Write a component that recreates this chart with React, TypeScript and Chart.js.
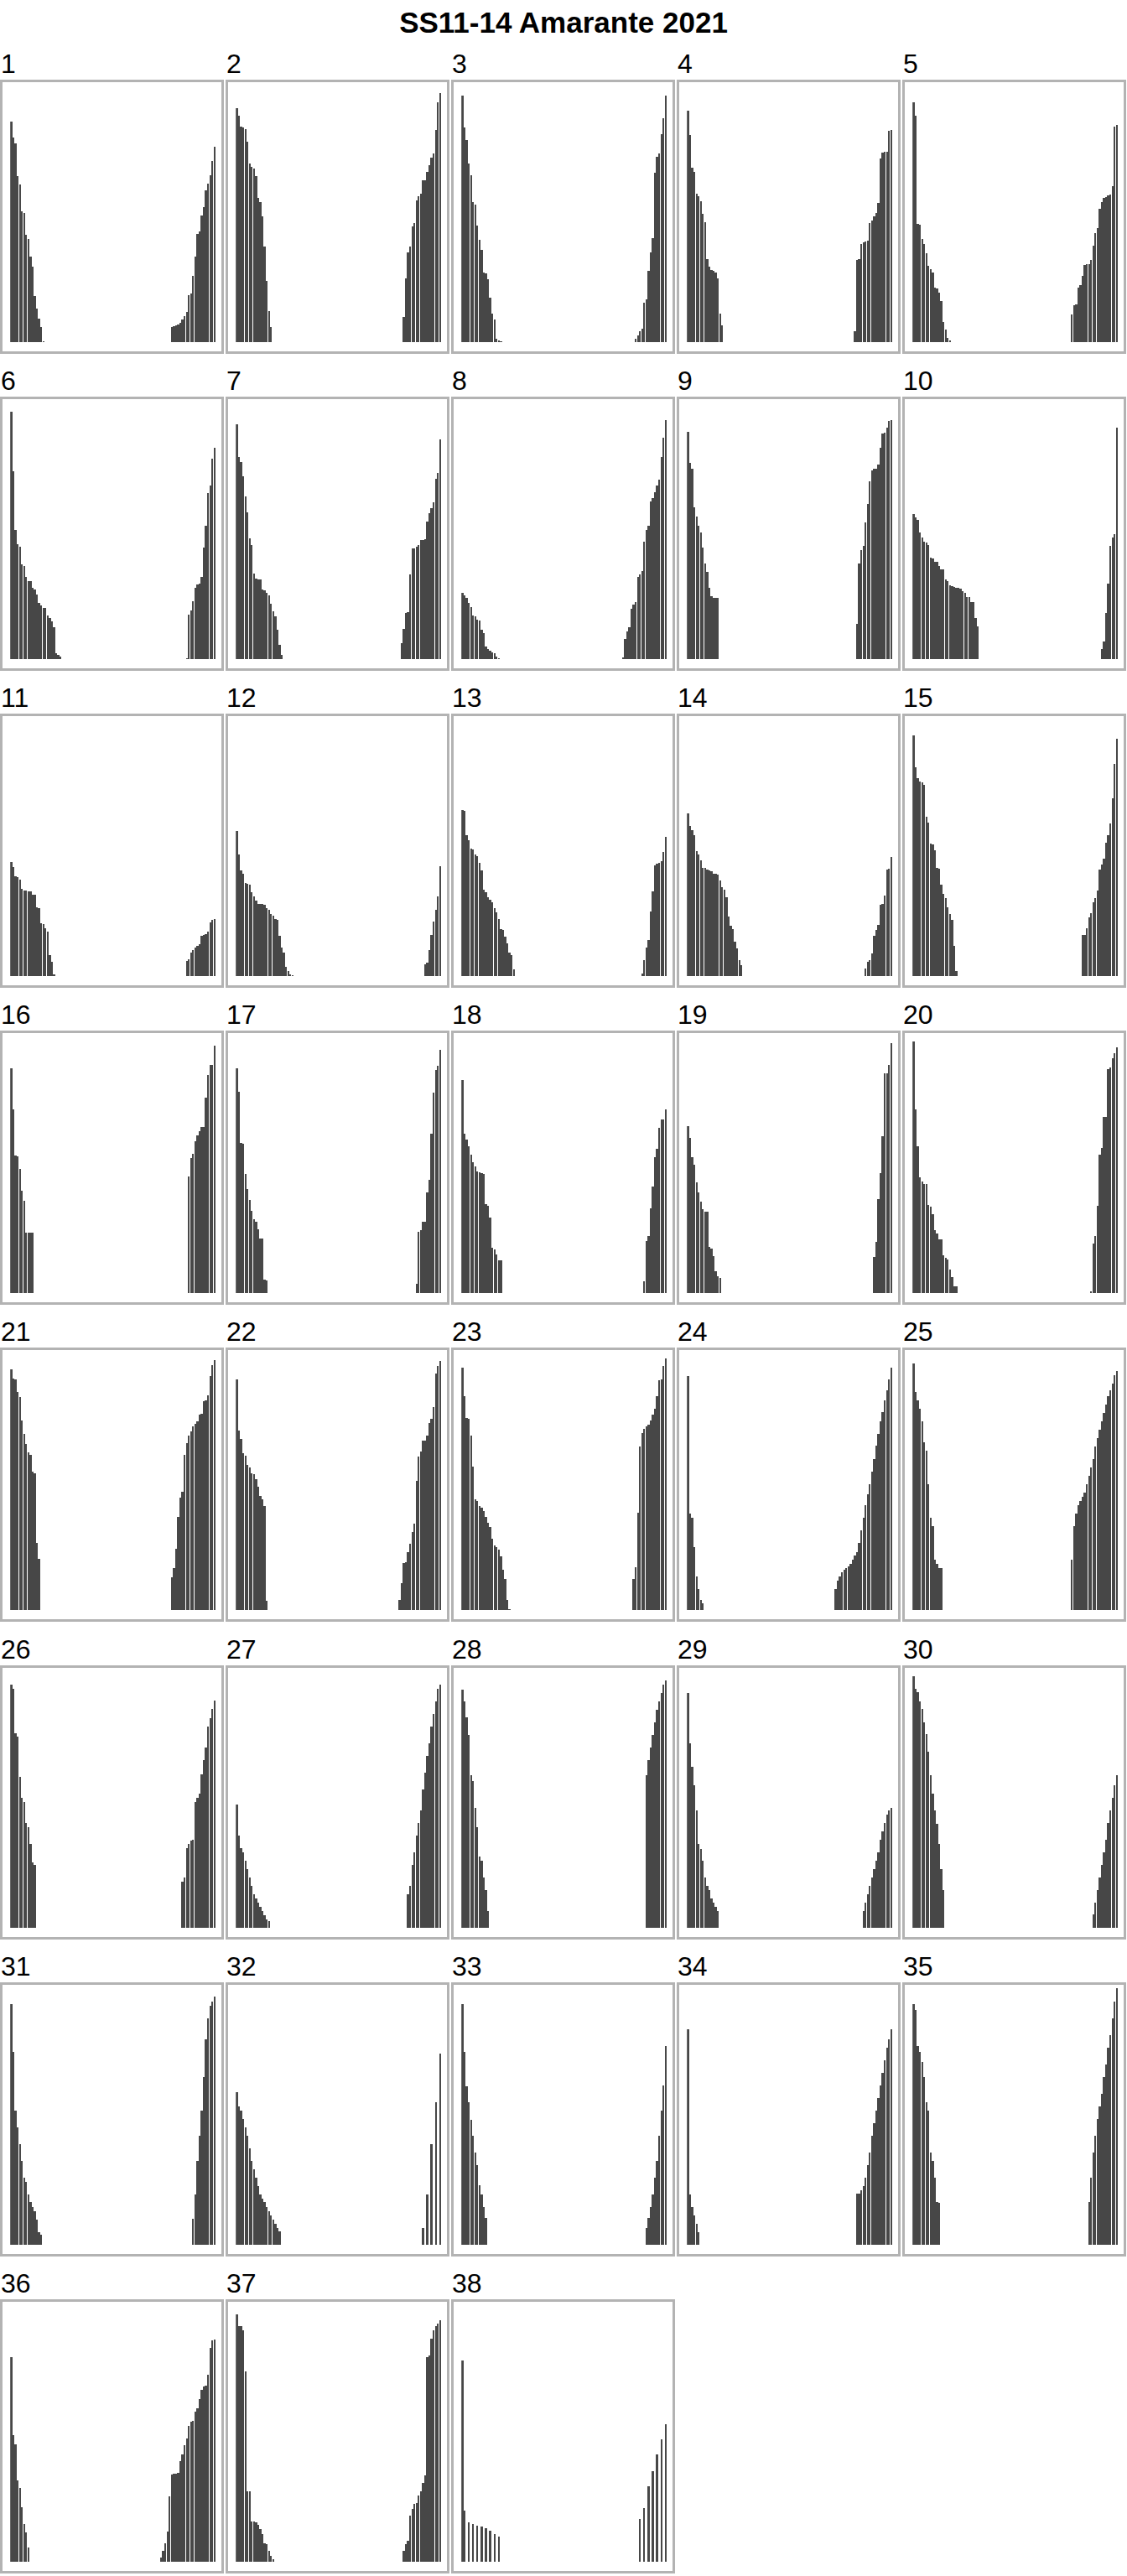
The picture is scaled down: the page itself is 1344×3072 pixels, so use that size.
import React, { useEffect, useRef } from "react";
import { Chart, registerables } from "chart.js";

Chart.register(...registerables);

const TITLE = "SS11-14 Amarante 2021";
const NBINS = 96;
const binLabels = Array.from({ length: NBINS }, (_, i) => String(i + 1));

const p1L = [263, 244, 237, 198, 188, 156, 154, 128, 123, 102, 90, 55, 40, 28, 18, 1];
const p1R = [18, 19, 20, 21, 23, 27, 31, 36, 56, 58, 79, 102, 129, 132, 151, 161, 181, 189, 199, 216, 233];
const p2L = [279, 270, 257, 256, 254, 239, 213, 209, 207, 198, 172, 167, 150, 114, 73, 37, 18];
const p2R = [30, 76, 107, 114, 138, 142, 169, 174, 177, 193, 193, 203, 211, 220, 225, 253, 286, 297];
const p3L = [294, 256, 241, 213, 199, 167, 164, 139, 122, 110, 83, 82, 75, 53, 34, 27, 4, 2, 1];
const p3R = [4, 8, 13, 16, 47, 51, 85, 107, 124, 202, 221, 225, 248, 267, 294];
const p4L = [276, 247, 208, 203, 177, 174, 168, 153, 143, 99, 90, 86, 85, 83, 76, 34, 20];
const p4R = [13, 98, 99, 117, 119, 120, 121, 142, 145, 150, 154, 166, 219, 226, 227, 227, 252, 253];
const p5L = [286, 270, 141, 140, 123, 117, 106, 91, 87, 83, 65, 64, 59, 49, 24, 15, 5, 2];
const p5R = [33, 44, 45, 65, 68, 79, 92, 93, 93, 98, 115, 130, 136, 159, 167, 172, 173, 175, 176, 186, 257, 259];
const p6L = [295, 224, 154, 137, 134, 113, 111, 98, 93, 93, 85, 83, 77, 67, 64, 61, 61, 52, 49, 45, 38, 7, 5, 3];
const p6R = [1, 53, 58, 69, 85, 89, 90, 98, 133, 159, 198, 207, 239, 252];
const p7L = [280, 241, 235, 218, 194, 175, 144, 136, 102, 96, 95, 95, 83, 82, 79, 76, 66, 57, 51, 35, 17, 5];
const p7R = [19, 36, 55, 56, 101, 132, 132, 134, 136, 142, 142, 143, 164, 174, 180, 187, 215, 222, 262];
const p8L = [79, 76, 73, 67, 62, 52, 51, 47, 46, 35, 31, 15, 12, 10, 8, 7, 3, 1];
const p8R = [2, 24, 33, 38, 60, 65, 68, 98, 101, 105, 140, 154, 159, 188, 192, 199, 207, 214, 241, 264, 285];
const p9L = [271, 234, 227, 181, 170, 159, 151, 133, 114, 104, 85, 75, 73, 73, 73];
const p9R = [42, 114, 130, 135, 163, 185, 212, 225, 227, 227, 232, 252, 269, 270, 276, 284, 285];
const p10L = [173, 169, 166, 151, 145, 140, 139, 136, 121, 120, 116, 116, 111, 107, 107, 95, 93, 88, 87, 86, 85, 85, 84, 81, 79, 74, 74, 68, 68, 49, 39];
const p10R = [12, 21, 55, 90, 135, 145, 149, 276];
const p11L = [136, 130, 119, 118, 115, 104, 102, 102, 101, 101, 97, 97, 82, 81, 63, 62, 57, 53, 25, 17, 2];
const p11R = [18, 20, 28, 31, 34, 36, 38, 48, 49, 50, 53, 64, 67, 68];
const p12L = [173, 145, 126, 122, 111, 110, 109, 100, 95, 90, 86, 86, 86, 85, 81, 79, 74, 72, 68, 67, 48, 34, 28, 11, 6, 2, 1];
const p12R = [14, 16, 31, 49, 65, 79, 95, 131];
const p13L = [198, 197, 168, 162, 152, 151, 145, 143, 135, 126, 103, 100, 94, 91, 88, 81, 76, 68, 56, 55, 47, 39, 28, 25, 8];
const p13R = [3, 19, 34, 43, 77, 101, 132, 134, 135, 137, 148, 166];
const p14L = [194, 179, 174, 168, 149, 145, 138, 129, 129, 127, 126, 125, 122, 122, 121, 114, 106, 103, 94, 71, 60, 56, 41, 33, 19, 13];
const p14R = [9, 17, 19, 27, 48, 55, 61, 85, 86, 96, 127, 128, 142];
const p15L = [287, 249, 236, 232, 231, 228, 190, 183, 158, 157, 150, 129, 128, 109, 98, 93, 82, 74, 67, 36, 6];
const p15R = [49, 49, 57, 70, 75, 88, 93, 102, 127, 133, 140, 159, 168, 182, 212, 253, 283];
const p16L = [268, 219, 164, 163, 148, 122, 110, 72, 72, 72, 72];
const p16R = [139, 161, 166, 181, 188, 193, 198, 198, 233, 260, 272, 272, 295];
const p17L = [268, 240, 179, 178, 142, 124, 111, 98, 88, 85, 76, 65, 65, 16, 15];
const p17R = [11, 73, 75, 85, 85, 120, 135, 190, 239, 266, 271, 290];
const p18L = [254, 190, 183, 175, 165, 156, 151, 145, 144, 143, 142, 106, 104, 90, 54, 52, 46, 39, 39];
const p18R = [14, 62, 68, 101, 127, 162, 172, 197, 207, 207, 219];
const p19L = [199, 185, 162, 153, 132, 120, 109, 100, 97, 97, 55, 53, 44, 26, 20, 18];
const p19R = [43, 61, 112, 143, 187, 262, 262, 272, 298];
const p20L = [300, 219, 175, 138, 133, 130, 130, 105, 103, 94, 75, 71, 64, 64, 45, 42, 40, 28, 19, 8, 8];
const p20R = [2, 59, 68, 104, 165, 173, 210, 210, 267, 269, 280, 286, 293];
const p21L = [287, 276, 275, 260, 254, 226, 210, 198, 188, 185, 165, 163, 80, 61];
const p21R = [39, 50, 73, 111, 134, 141, 185, 199, 208, 213, 219, 222, 225, 233, 234, 249, 250, 256, 279, 292, 298];
const p22L = [275, 214, 204, 187, 184, 173, 170, 163, 162, 156, 147, 136, 132, 124, 11];
const p22R = [12, 32, 56, 57, 69, 79, 93, 103, 154, 183, 189, 202, 202, 208, 223, 228, 242, 282, 291, 297];
const p23L = [289, 255, 229, 228, 208, 171, 132, 130, 124, 122, 118, 111, 104, 99, 85, 77, 75, 72, 64, 48, 37, 12, 1];
const p23R = [37, 51, 116, 195, 211, 216, 219, 221, 226, 233, 240, 255, 274, 275, 291, 300];
const p24L = [279, 115, 110, 75, 40, 25, 12, 8];
const p24R = [25, 35, 40, 45, 48, 50, 52, 55, 60, 65, 69, 80, 95, 110, 125, 138, 150, 165, 180, 196, 210, 225, 236, 250, 262, 275, 289];
const p25L = [294, 260, 250, 240, 225, 200, 190, 150, 110, 100, 60, 55, 50, 50];
const p25R = [60, 100, 115, 125, 130, 135, 140, 150, 160, 170, 180, 195, 205, 215, 225, 235, 245, 255, 262, 270, 280, 285];
const p26L = [290, 285, 232, 228, 180, 155, 150, 125, 120, 100, 78, 75];
const p26R = [55, 60, 95, 100, 104, 105, 150, 155, 160, 183, 200, 215, 240, 250, 261, 271];
const p27L = [147, 110, 95, 90, 80, 70, 60, 50, 40, 35, 30, 25, 20, 15, 10, 8];
const p27R = [40, 50, 75, 90, 110, 125, 140, 165, 185, 205, 220, 240, 255, 270, 285, 290];
const p28L = [284, 270, 251, 230, 182, 175, 143, 120, 85, 80, 60, 45, 20];
const p28R = [182, 200, 215, 230, 245, 260, 270, 280, 290, 295];
const p29L = [280, 220, 192, 170, 140, 100, 94, 80, 60, 50, 45, 35, 30, 25, 20];
const p29R = [20, 30, 40, 50, 60, 70, 80, 90, 105, 115, 125, 135, 140, 143];
const p30L = [300, 285, 281, 270, 261, 245, 231, 210, 182, 160, 140, 124, 100, 70, 45];
const p30R = [16, 30, 45, 60, 75, 90, 105, 125, 140, 155, 170, 182];
const p31L = [287, 230, 160, 140, 120, 100, 80, 75, 60, 51, 45, 40, 30, 15, 12];
const p31R = [31, 60, 100, 130, 160, 200, 245, 270, 285, 290, 296];
const p32L = [182, 165, 160, 150, 140, 130, 115, 100, 90, 80, 70, 60, 55, 51, 45, 40, 35, 30, 25, 20, 16];
const p32R = [20, null, 60, null, 120, null, 170, null, 228];
const p33L = [287, 230, 189, 170, 149, 130, 110, 95, 71, 60, 45, 32];
const p33R = [20, 32, 45, 60, 80, 100, 130, 160, 190, 237];
const p34L = [257, 60, 45, 35, 25, 15];
const p34R = [61, 61, 65, 70, 80, 95, 110, 130, 145, 160, 175, 190, 205, 220, 235, 245, 257];
const p35L = [287, 280, 237, 230, 218, 200, 170, 160, 110, 100, 80, 51, 50];
const p35R = [51, 80, 110, 130, 150, 165, 180, 200, 215, 235, 250, 270, 290, 306];
const p36L = [244, 151, 140, 97, 88, 65, 45, 35, 17];
const p36R = [5, 13, 22, 36, 78, 104, 105, 105, 106, 120, 128, 139, 147, 162, 167, 168, 179, 183, 194, 205, 209, 210, 223, 255, 264, 265];
const p37L = [295, 281, 281, 276, 227, 84, 84, 48, 48, 47, 44, 39, 33, 22, 21, 13, 7, 3];
const p37R = [13, 21, 25, 55, 63, 69, 70, 79, 84, 94, 103, 244, 246, 266, 276, 281, 284, 288];
const p38L = [240, 61, null, 47, null, 45, null, 43, null, 42, null, 40, null, 37, null, 33, null, 30];
const p38R = [51, null, 64, null, 90, null, 108, null, 128, null, 146, null, 164];

const panelLabels = Array.from({ length: 38 }, (_, i) => String(i + 1));
const panelLeft: (number | null)[][] = [p1L, p2L, p3L, p4L, p5L, p6L, p7L, p8L, p9L, p10L, p11L, p12L, p13L, p14L, p15L, p16L, p17L, p18L, p19L, p20L, p21L, p22L, p23L, p24L, p25L, p26L, p27L, p28L, p29L, p30L, p31L, p32L, p33L, p34L, p35L, p36L, p37L, p38L];
const panelRight: (number | null)[][] = [p1R, p2R, p3R, p4R, p5R, p6R, p7R, p8R, p9R, p10R, p11R, p12R, p13R, p14R, p15R, p16R, p17R, p18R, p19R, p20R, p21R, p22R, p23R, p24R, p25R, p26R, p27R, p28R, p29R, p30R, p31R, p32R, p33R, p34R, p35R, p36R, p37R, p38R];

const FONT = '"Liberation Sans", Arial, Helvetica, sans-serif';
const BAR = "#474747";
const FRAME = "#b3b3b3";
const COLS = 5;
const COL_PITCH = 269;
const BOX_W = 267;
const BOX_H = 327;
const ROW0_TOP = 95;
const ROW_PITCH = 378.1;
const BORDER = 3;

function buildSeries(left: (number | null)[], right: (number | null)[]) {
  const arr: (number | null)[] = new Array(NBINS).fill(null);
  left.forEach((v, i) => (arr[i] = v));
  const start = NBINS - right.length;
  right.forEach((v, i) => (arr[start + i] = v));
  return arr;
}

// Snap bar edges to whole pixels (crisp raster look like the reference)
const snapBars = {
  id: "snapBars",
  beforeDatasetsDraw(chart: any) {
    chart.getSortedVisibleDatasetMetas().forEach((meta: any) => {
      meta.data.forEach((el: any) => {
        if (!el || !isFinite(el.x) || !isFinite(el.y) || !isFinite(el.width)) return;
        const l = Math.round(el.x - el.width / 2);
        const r = Math.round(el.x + el.width / 2);
        el.width = Math.max(1, r - l);
        el.x = l + el.width / 2;
        el.y = Math.round(el.y);
        el.base = Math.round(el.base);
      });
    });
  },
};

function Panel({ idx }: { idx: number }) {
  const ref = useRef<HTMLCanvasElement | null>(null);
  const col = idx % COLS;
  const row = Math.floor(idx / COLS);
  const left = col * COL_PITCH;
  const top = Math.round(ROW0_TOP + row * ROW_PITCH);
  const cw = BOX_W - 2 * BORDER;
  const ch = BOX_H - 2 * BORDER;

  useEffect(() => {
    if (!ref.current) return;
    const chart = new Chart(ref.current, {
      type: "bar",
      data: {
        labels: binLabels,
        datasets: [
          {
            data: buildSeries(panelLeft[idx], panelRight[idx]),
            backgroundColor: BAR,
            borderWidth: 0,
            barPercentage: 0.9,
            categoryPercentage: 1.0,
          },
        ],
      },
      options: {
        animation: false,
        responsive: false,
        maintainAspectRatio: false,
        events: [],
        layout: { padding: { left: 9.2, right: 6.9, top: 0, bottom: 11 } },
        scales: {
          x: { display: false, offset: true, grid: { display: false } },
          y: { display: false, min: 0, max: 310, grid: { display: false } },
        },
        plugins: {
          legend: { display: false },
          tooltip: { enabled: false },
          title: { display: false },
        },
      },
      plugins: [snapBars],
    });
    return () => chart.destroy();
  }, [idx]);

  return (
    <>
      <div
        style={{
          position: "absolute",
          left: left + 1,
          top: top - 34.6,
          fontSize: 32,
          lineHeight: "32px",
          fontFamily: FONT,
          color: "#000",
          whiteSpace: "nowrap",
        }}
      >
        {panelLabels[idx]}
      </div>
      <div
        style={{
          position: "absolute",
          left,
          top,
          width: BOX_W,
          height: BOX_H,
          boxSizing: "border-box",
          border: `${BORDER}px solid ${FRAME}`,
          background: "#fff",
        }}
      >
        <canvas ref={ref} width={cw} height={ch} style={{ display: "block", width: cw, height: ch }} />
      </div>
    </>
  );
}

export default function App() {
  return (
    <div
      style={{
        position: "absolute",
        left: 0,
        top: 0,
        width: 1344,
        height: 3072,
        background: "#fff",
        fontFamily: FONT,
        overflow: "hidden",
      }}
    >
      <div
        style={{
          position: "absolute",
          left: 0,
          top: 9,
          width: 1344,
          textAlign: "center",
          fontSize: 35,
          lineHeight: "35px",
          fontWeight: "bold",
          color: "#000",
        }}
      >
        {TITLE}
      </div>
      {panelLabels.map((_, i) => (
        <Panel key={i} idx={i} />
      ))}
    </div>
  );
}
